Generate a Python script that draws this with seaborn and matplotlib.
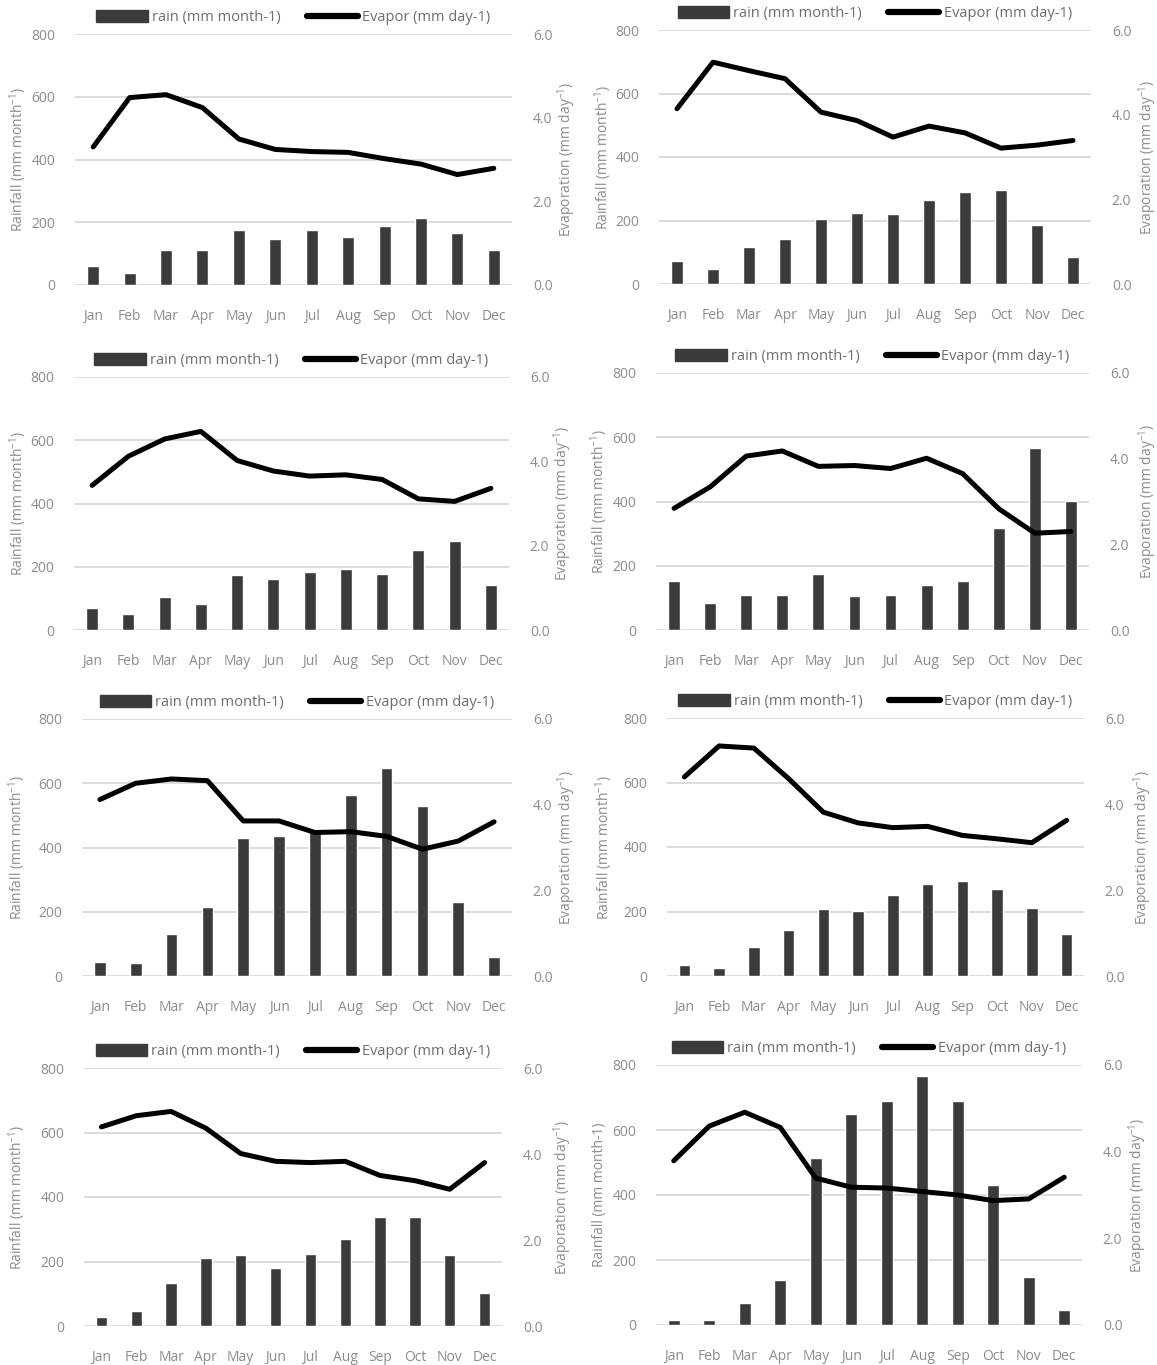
import numpy as np
import pandas as pd
import matplotlib
matplotlib.use("Agg")
import matplotlib.pyplot as plt
import seaborn as sns
from matplotlib.patches import Patch
from matplotlib.lines import Line2D

sns.set_style("white")
plt.rcParams['font.family'] = ['Open Sans', 'DejaVu Sans']
plt.rcParams['mathtext.default'] = 'regular'

months = ['Jan', 'Feb', 'Mar', 'Apr', 'May', 'Jun', 'Jul', 'Aug', 'Sep', 'Oct', 'Nov', 'Dec']

# rainfall (mm month-1) per station
rain1 = [60, 37, 113, 113, 175, 148, 175, 152, 187, 213, 167, 113]
rain2 = [73, 47, 116, 142, 204, 225, 220, 266, 289, 296, 187, 85]
rain3 = [71, 51, 104, 82, 173, 162, 184, 193, 177, 254, 281, 142]
rain4 = [151, 83, 109, 109, 174, 106, 109, 139, 151, 317, 568, 402]
rain5 = [44, 41, 131, 214, 429, 436, 448, 564, 647, 530, 230, 60]
rain6 = [35, 25, 89, 142, 209, 202, 250, 284, 295, 269, 212, 130]
rain7 = [27, 46, 132, 212, 219, 181, 222, 269, 337, 337, 219, 102]
rain8 = [16, 16, 68, 140, 514, 648, 689, 767, 689, 431, 147, 45]

# evaporation (mm day-1) per station
evap1 = [3.30, 4.48, 4.55, 4.24, 3.49, 3.24, 3.19, 3.17, 3.02, 2.89, 2.64, 2.79]
evap2 = [4.14, 5.24, 5.04, 4.85, 4.06, 3.86, 3.47, 3.73, 3.57, 3.21, 3.28, 3.39]
evap3 = [3.43, 4.12, 4.53, 4.71, 4.02, 3.77, 3.65, 3.68, 3.57, 3.11, 3.05, 3.36]
evap4 = [2.84, 3.34, 4.06, 4.18, 3.82, 3.84, 3.77, 4.01, 3.65, 2.83, 2.26, 2.30]
evap5 = [4.12, 4.50, 4.60, 4.56, 3.62, 3.62, 3.35, 3.37, 3.26, 2.96, 3.15, 3.60]
evap6 = [4.63, 5.35, 5.30, 4.59, 3.81, 3.56, 3.45, 3.48, 3.27, 3.19, 3.10, 3.62]
evap7 = [4.63, 4.89, 4.99, 4.60, 4.01, 3.83, 3.80, 3.83, 3.50, 3.38, 3.18, 3.80]
evap8 = [3.79, 4.59, 4.91, 4.56, 3.39, 3.18, 3.16, 3.08, 3.00, 2.87, 2.91, 3.41]

rains = [rain1, rain2, rain3, rain4, rain5, rain6, rain7, rain8]
evaps = [evap1, evap2, evap3, evap4, evap5, evap6, evap7, evap8]

rain_lab = 'Rainfall (mm month$^{-1}$)'
evap_lab = 'Evaporation (mm day$^{-1}$)'
ylabels = [rain_lab] * 7 + ['Rainfall (mm month-1)']

# plot area in pixels: x0, x1, ytop, ybottom
boxes = [(75, 512, 34, 285), (659, 1091, 30, 284),
         (74, 509, 377, 630), (656, 1089, 373, 630),
         (82, 512, 719, 976), (667, 1084, 718, 976),
         (84, 502, 1068, 1326), (656, 1082, 1065, 1325)]
# x pixel of left / right axis titles (centre)
lab_x = [(18, 567), (603, 1148), (18, 563), (599, 1148),
         (17, 567), (604, 1143), (17, 563), (600, 1138)]

W, H = 1157, 1365
bar_col = '#3b3b3b'
txt_col = '#8c8c8c'
grid_col = '#d9d9d9'

fig = plt.figure(figsize=(W / 100, H / 100), dpi=100)

for i in range(8):
    x0, x1, yt, yb = boxes[i]
    ax = fig.add_axes([x0 / W, 1 - yb / H, (x1 - x0) / W, (yb - yt) / H])
    df = pd.DataFrame({'month': months, 'rain': rains[i], 'evap': evaps[i]})
    sns.barplot(data=df, x='month', y='rain', color=bar_col, width=0.33,
                saturation=1, ax=ax)
    ax.set_ylim(0, 800)
    ax.set_yticks([0, 200, 400, 600, 800])
    ax.set_xlim(-0.5, 11.5)
    ax.yaxis.grid(True, color=grid_col, lw=1.3)
    ax.set_axisbelow(True)
    sns.despine(ax=ax, left=True, bottom=True)
    ax.set_xlabel('')
    ax.set_ylabel(ylabels[i], color=txt_col, fontsize=10, va='center')
    ax.yaxis.set_label_coords((lab_x[i][0] - x0) / (x1 - x0), 0.5)
    ax.tick_params(axis='x', length=0, pad=17, labelcolor=txt_col, labelsize=10)
    ax.tick_params(axis='y', length=0, pad=14, labelcolor=txt_col, labelsize=10)

    ax2 = ax.twinx()
    sns.lineplot(x=np.arange(12), y=df['evap'], color='black', lw=3.6,
                 ax=ax2, solid_capstyle='round', solid_joinstyle='round')
    ax2.set_ylim(0, 6)
    ax2.set_yticks([0, 2, 4, 6])
    ax2.set_yticklabels(['0.0', '2.0', '4.0', '6.0'])
    ax2.set_xlim(-0.5, 11.5)
    sns.despine(ax=ax2, left=True, bottom=True, right=True)
    ax2.set_ylabel(evap_lab, color=txt_col, fontsize=10, va='center')
    ax2.yaxis.set_label_coords((lab_x[i][1] - x0) / (x1 - x0), 0.5)
    ax2.tick_params(axis='y', length=0, pad=15, labelcolor=txt_col, labelsize=10)

    handles = [Patch(facecolor=bar_col, edgecolor=bar_col),
               Line2D([], [], color='black', lw=4.5, solid_capstyle='round')]
    ax2.legend(handles, ['rain (mm month-1)', 'Evapor (mm day-1)'],
               loc='lower center', bbox_to_anchor=(0.5, 1.0), ncol=2,
               frameon=False, fontsize=10.5, labelcolor='#6e6e6e',
               handlelength=3.5, handleheight=0.9, handletextpad=0.3,
               columnspacing=1.8, borderaxespad=0.2)

fig.savefig('out.png', dpi=100)
